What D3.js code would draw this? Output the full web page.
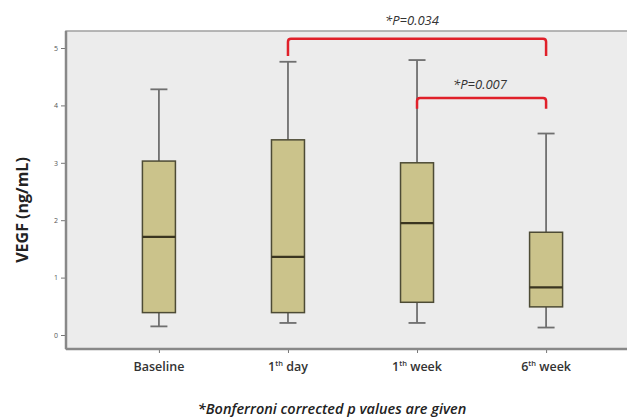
<!DOCTYPE html>
<html>
<head>
<meta charset="utf-8">
<script src="https://cdn.jsdelivr.net/npm/d3@7"></script>
<style>
  body { margin: 0; background: #fff; }
  text { font-family: "Open Sans", "DejaVu Sans", sans-serif; }
</style>
</head>
<body>
<svg class="chart"></svg>
<script>
// box plot values (ng/mL)
var groups = ["Baseline", "1th day", "1th week", "6th week"];
var whiskerLow = [0.15, 0.21, 0.21, 0.13];
var q1 = [0.39, 0.39, 0.57, 0.49];
var medians = [1.71, 1.36, 1.95, 0.83];
var q3 = [3.03, 3.40, 3.00, 1.79];
var whiskerHigh = [4.28, 4.76, 4.79, 3.51];
var yTicks = [0, 1, 2, 3, 4, 5];

// significance brackets
var pFrom = ["1th day", "1th week"];
var pTo = ["6th week", "6th week"];
var pTop = [5.16, 4.13];
var pLeg = [4.86, 3.94];
var pText = ["*P=0.034", "*P=0.007"];

var width = 627;
var height = 418;
var plotL = 66, plotT = 31, plotR = 639, plotB = 349;

var svg = d3.select(".chart").attr("width", width).attr("height", height);

var x_scale = d3.scalePoint()
    .domain(groups)
    .range([plotL, plotR])
    .padding(0.72);

var y_scale = d3.scaleLinear()
    .domain([0, 5])
    .range([335, 48]);

// plot background
svg.append("rect")
    .attr("x", plotL).attr("y", plotT)
    .attr("width", plotR - plotL).attr("height", plotB - plotT)
    .attr("fill", "#ececec")
    .attr("stroke", "#a0a0a0")
    .attr("stroke-width", 1.5);

// axes
var y_axis = d3.axisLeft(y_scale).tickValues(yTicks).tickFormat(d3.format("d")).tickSize(5).tickPadding(3);
var gy = svg.append("g")
    .attr("transform", "translate(" + plotL + ",0)")
    .call(y_axis);
gy.select(".domain").remove();
gy.selectAll("line").attr("stroke", "#777");
gy.selectAll("text").attr("font-size", 7).attr("fill", "#555");

var x_axis = d3.axisBottom(x_scale).tickSize(4).tickFormat("");
var gx = svg.append("g")
    .attr("transform", "translate(0," + plotB + ")")
    .call(x_axis);
gx.select(".domain").remove();
gx.selectAll("line").attr("stroke", "#777");

svg.append("line")
    .attr("x1", plotL).attr("x2", plotL).attr("y1", plotT).attr("y2", plotB)
    .attr("stroke", "#888").attr("stroke-width", 2.5);
svg.append("line")
    .attr("x1", plotL).attr("x2", plotR).attr("y1", plotB).attr("y2", plotB)
    .attr("stroke", "#888").attr("stroke-width", 2.5);

// category labels with superscripts
groups.forEach(function(g) {
  var t = svg.append("text")
      .attr("x", x_scale(g))
      .attr("y", 371)
      .attr("text-anchor", "middle")
      .attr("font-size", 12.5)
      .attr("font-weight", "600")
      .attr("fill", "#333");
  var m = g.match(/^(\d)(th)( .*)$/);
  if (m) {
    t.append("tspan").text(m[1]);
    t.append("tspan").attr("font-size", 7.5).attr("dy", -5).text(m[2]);
    t.append("tspan").attr("dy", 5).text(m[3]);
  } else {
    t.text(g);
  }
});

// boxes
var boxW = 33, capW = 17;
groups.forEach(function(g, i) {
  var cx = x_scale(g);
  svg.append("line")
      .attr("x1", cx).attr("x2", cx)
      .attr("y1", y_scale(whiskerHigh[i])).attr("y2", y_scale(q3[i]))
      .attr("stroke", "#6f6f6f").attr("stroke-width", 1.8);
  svg.append("line")
      .attr("x1", cx).attr("x2", cx)
      .attr("y1", y_scale(q1[i])).attr("y2", y_scale(whiskerLow[i]))
      .attr("stroke", "#6f6f6f").attr("stroke-width", 1.8);
  [whiskerHigh[i], whiskerLow[i]].forEach(function(v) {
    svg.append("line")
        .attr("x1", cx - capW / 2).attr("x2", cx + capW / 2)
        .attr("y1", y_scale(v)).attr("y2", y_scale(v))
        .attr("stroke", "#6f6f6f").attr("stroke-width", 1.8);
  });
  svg.append("rect")
      .attr("x", cx - boxW / 2)
      .attr("y", y_scale(q3[i]))
      .attr("width", boxW)
      .attr("height", y_scale(q1[i]) - y_scale(q3[i]))
      .attr("fill", "#cbc38b")
      .attr("stroke", "#4d4b35")
      .attr("stroke-width", 1.5);
  svg.append("line")
      .attr("x1", cx - boxW / 2).attr("x2", cx + boxW / 2)
      .attr("y1", y_scale(medians[i])).attr("y2", y_scale(medians[i]))
      .attr("stroke", "#3a3520").attr("stroke-width", 2.2);
});

// significance brackets
pFrom.forEach(function(a, i) {
  var x1 = x_scale(a), x2 = x_scale(pTo[i]);
  var yt = y_scale(pTop[i]), yl = y_scale(pLeg[i]);
  svg.append("path")
      .attr("d", "M" + x1 + "," + yl + "V" + (yt + 3) + "Q" + x1 + "," + yt + " " + (x1 + 3) + "," + yt +
                 "H" + (x2 - 3) + "Q" + x2 + "," + yt + " " + x2 + "," + (yt + 3) + "V" + yl)
      .attr("fill", "none")
      .attr("stroke", "#e0202a")
      .attr("stroke-width", 2.5);
});

svg.append("text")
    .attr("x", 412).attr("y", 25)
    .attr("text-anchor", "middle")
    .attr("font-size", 13)
    .attr("font-style", "italic")
    .attr("fill", "#333")
    .text(pText[0]);
svg.append("text")
    .attr("x", 480).attr("y", 89)
    .attr("text-anchor", "middle")
    .attr("font-size", 13)
    .attr("font-style", "italic")
    .attr("fill", "#333")
    .text(pText[1]);

// y label
svg.append("text")
    .attr("transform", "rotate(-90)")
    .attr("x", -210)
    .attr("y", 28)
    .attr("text-anchor", "middle")
    .attr("font-size", 16)
    .attr("font-weight", "bold")
    .attr("fill", "#222")
    .text("VEGF (ng/mL)");

// footnote
svg.append("text")
    .attr("x", 332)
    .attr("y", 414)
    .attr("text-anchor", "middle")
    .attr("font-size", 14.5)
    .attr("font-weight", "600")
    .attr("font-style", "italic")
    .attr("fill", "#222")
    .text("*Bonferroni corrected p values are given");
</script>
</body>
</html>
